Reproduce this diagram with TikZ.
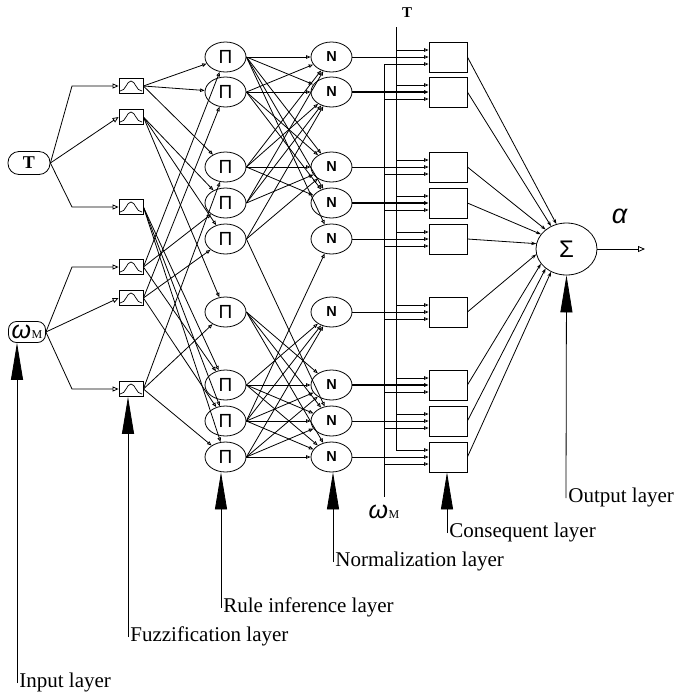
\documentclass[tikz,border=0pt]{standalone}
\usepackage{fontspec}
\setmainfont{Liberation Serif}
\newfontfamily\sansf{Liberation Sans}
\usetikzlibrary{arrows.meta,shapes.geometric,calc}
\begin{document}
\begin{tikzpicture}[x=1pt,y=-1pt,line width=0.8pt,
  pinode/.style={draw, ellipse, minimum width=41pt, minimum height=30pt, inner sep=0pt, font=\sansf\fontsize{19}{19}\selectfont},
  nnode/.style={draw, ellipse, minimum width=41pt, minimum height=30pt, inner sep=0pt, font=\sansf\bfseries\fontsize{14.5}{15}\selectfont},
  cbox/.style={draw, minimum width=38pt, minimum height=30pt, inner sep=0pt},
  fuzz/.style={draw, minimum width=24pt, minimum height=15pt, inner sep=0pt,
    path picture={\draw[line width=0.7pt, shift={(path picture bounding box.center)}]
      (-11pt,-5pt) .. controls (-5pt,-5pt) and (-4.5pt,5pt) .. (0pt,5pt)
      .. controls (4.5pt,5pt) and (5pt,-5pt) .. (11pt,-5pt);}},
  otip/.style={-{Triangle[open,length=6pt,width=5pt]}},
  stip/.style={-{Triangle[open,length=4.5pt,width=3.5pt]}},
  ftip/.style={-{Stealth[length=5pt,width=3.5pt]}},
  bigarrow/.style={-{Triangle[length=37pt,width=12pt]}},
  lab/.style={anchor=base west, inner sep=0pt, font=\fontsize{21}{24}\selectfont},
]
\useasboundingbox (0,0) rectangle (678,697);

% input nodes
\node[draw, rounded corners=11pt, minimum width=42pt, minimum height=23pt, inner sep=0pt,
      font=\bfseries\fontsize{18}{18}\selectfont] (T) at (29,163) {T};
\node[draw, rounded corners=8pt, minimum width=37pt, minimum height=21pt, inner sep=1pt] (W) at (27,332)
  {{\sansf\itshape\fontsize{25}{25}\selectfont ω}\hspace{0.5pt}{\fontsize{12}{12}\selectfont M}};

% fuzzification boxes
\node[fuzz] (f1) at (131,86) {};
\node[fuzz] (f2) at (131,117) {};
\node[fuzz] (f3) at (131,207) {};
\node[fuzz] (f4) at (131,267) {};
\node[fuzz] (f5) at (131,298) {};
\node[fuzz] (f6) at (131,389) {};

\coordinate (b1) at (72,86);
\coordinate (b3) at (72,207);
\coordinate (b4) at (72,267);
\coordinate (b6) at (72,389);
\draw[otip] (T.east) -- (b1) -- (f1.west);
\draw[otip] (T.east) -- (f2.west);
\draw[otip] (T.east) -- (b3) -- (f3.west);
\draw[otip] (W.east) -- (b4) -- (f4.west);
\draw[otip] (W.east) -- (f5.west);
\draw[otip] (W.east) -- (b6) -- (f6.west);

% rule, normalization, consequent nodes
\foreach \i/\y in {1/57,2/92,3/167,4/203,5/239,6/312,7/385,8/421,9/457}{
  \node[pinode] (p\i) at (225.5,\y) {Π};
  \node[nnode] (n\i) at (331.5,\y) {N};
  \node[cbox] (c\i) at (448,\y) {};
}

% fuzz -> rule
\foreach \f/\p in {1/1,1/2,1/3,2/4,2/5,2/6,3/7,3/8,3/9,4/1,4/4,4/7,5/2,5/5,5/8,6/3,6/6,6/9}{
  \draw[stip] (f\f.east) -- (p\p);
}

% rule -> normalization
\foreach \p/\n in {1/1,1/2,1/3,1/4,1/5,2/1,2/2,2/3,2/4,3/1,3/2,3/3,3/4,4/1,4/2,4/3,5/2,5/3,5/8,
                   6/7,6/8,6/9,7/6,7/7,7/8,7/9,8/5,8/6,8/7,8/8,8/9,9/6,9/7,9/8,9/9}{
  \draw[stip] (p\p.east) -- (n\n);
}

% T and omega_M lines
\node[inner sep=0pt, font=\bfseries\fontsize{15}{15}\selectfont] (Tlab) at (407,13) {T};
\node[inner sep=0pt] (Wlab) at (384,512)
  {{\sansf\itshape\fontsize{25}{25}\selectfont ω}\hspace{0.5pt}{\fontsize{12}{12}\selectfont M}};
\coordinate (Ttop) at (396,27);
\coordinate (Tbot) at (396,450);
\coordinate (Wtop) at (384,64);
\coordinate (Wbot) at (384,497);
\draw (Ttop) -- (Tbot);
\draw (Wtop) -- (Wbot);

% consequent inputs
\foreach \i/\y/\w in {1/57/0.8,2/92/1.3,3/167/0.8,4/203/1.3,5/239/0.8,6/312/0.8,7/385/1.3,8/421/0.8,9/457/0.8}{
  \draw[stip, line width=\w pt] (n\i.east) -- (c\i.west);
  \draw[stip] (396,\y-7) -- (c\i.west |- 0,\y-7);
  \draw[stip] (384,\y+7) -- (c\i.west |- 0,\y+7);
}

% output
\node[draw, ellipse, minimum width=61pt, minimum height=52pt, inner sep=0pt,
      font=\sansf\fontsize{24}{24}\selectfont] (S) at (566.5,249) {Σ};
\foreach \i/\a in {1/112,2/124,3/137,4/150,5/170,6/190,7/210,8/223,9/236}{
  \draw[ftip] (c\i.east) -- (S.\a);
}
\coordinate (out) at (645,249);
\draw[-{Triangle[open,length=7pt,width=6pt]}] (S.east) -- (out);
\node[inner sep=0pt, font=\sansf\itshape\fontsize{27}{27}\selectfont] (alpha) at (619.5,216) {α};

% layer labels
\coordinate (eIn) at (17,683);
\coordinate (eFz) at (128,637);
\coordinate (eRu) at (221,608);
\coordinate (eNo) at (333,562);
\coordinate (eCo) at (447,533);
\coordinate (eOu) at (566,498);
\draw[bigarrow] (eIn) -- (eIn |- W.south);
\draw[bigarrow] (eFz) -- (eFz |- f6.south);
\draw[bigarrow] (eRu) -- (eRu |- p9.south);
\draw[bigarrow] (eNo) -- (eNo |- n9.south);
\draw[bigarrow] (eCo) -- (eCo |- c9.south);
\draw[bigarrow] (eOu) -- (S.south);
\node[lab] (lIn) at (19,687) {Input layer};
\node[lab] (lFz) at (130,641) {Fuzzification layer};
\node[lab] (lRu) at (223,612) {Rule inference layer};
\node[lab] (lNo) at (335,566) {Normalization layer};
\node[lab] (lCo) at (449,537) {Consequent layer};
\node[lab] (lOu) at (568,502) {Output layer};
\end{tikzpicture}
\end{document}
